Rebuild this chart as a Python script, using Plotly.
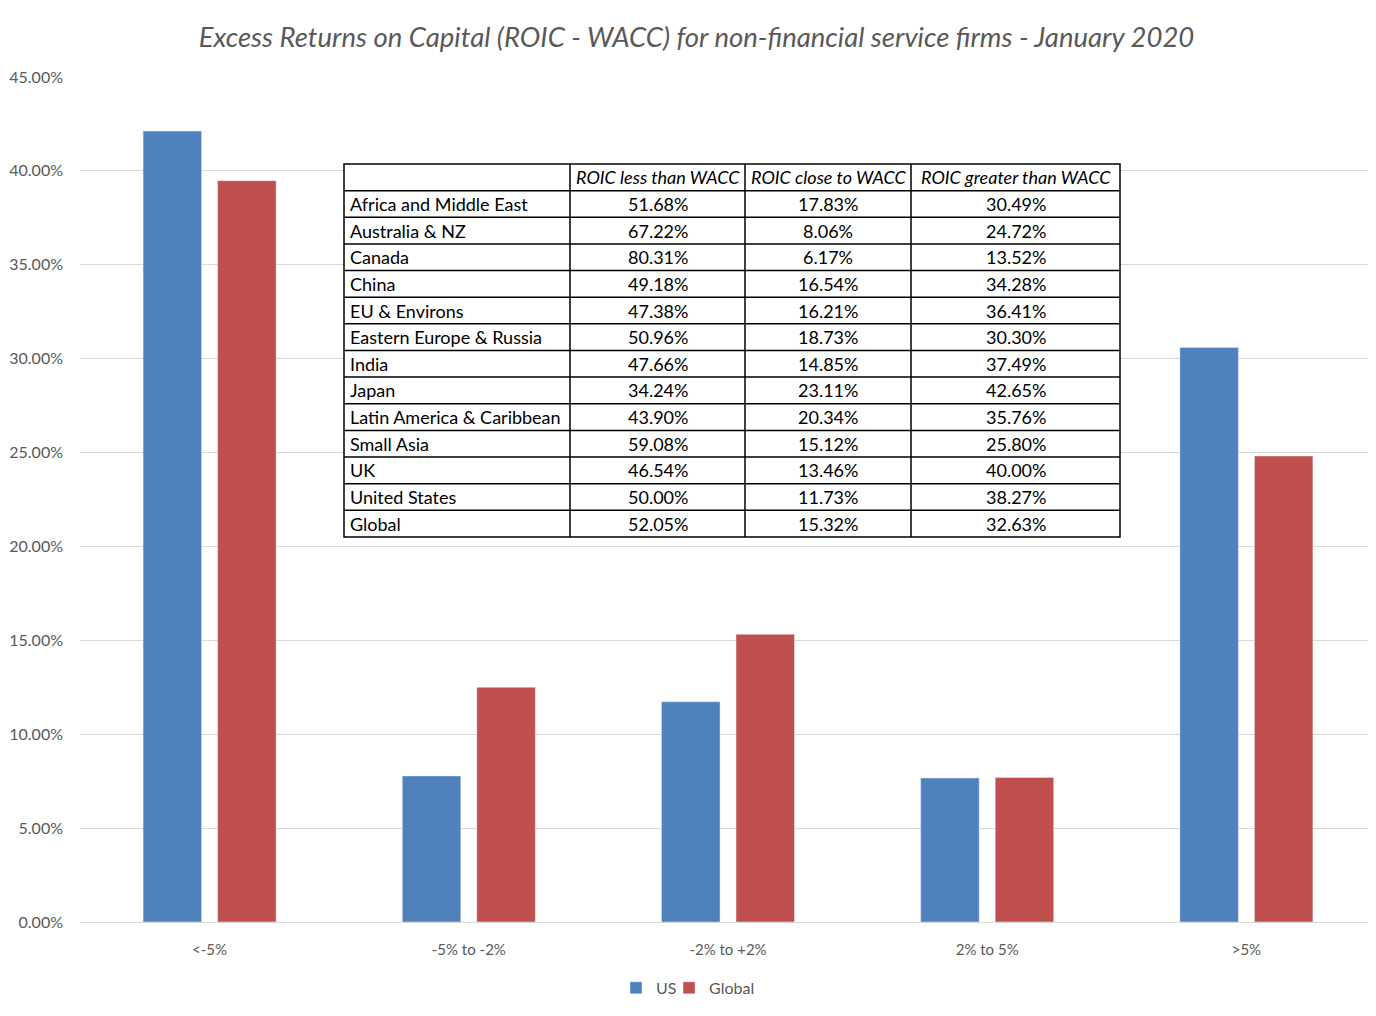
import plotly.graph_objects as go

categories = ["<-5%", "-5% to -2%", "-2% to +2%", "2% to 5%", ">5%"]
us_values = [42.12, 7.78, 11.73, 7.67, 30.60]
global_values = [39.48, 12.50, 15.32, 7.70, 24.82]

regions = ["Africa and Middle East", "Australia & NZ", "Canada", "China", "EU & Environs",
           "Eastern Europe & Russia", "India", "Japan", "Latin America & Caribbean",
           "Small Asia", "UK", "United States", "Global"]
less_than = ["51.68%", "67.22%", "80.31%", "49.18%", "47.38%", "50.96%", "47.66%",
             "34.24%", "43.90%", "59.08%", "46.54%", "50.00%", "52.05%"]
close_to = ["17.83%", "8.06%", "6.17%", "16.54%", "16.21%", "18.73%", "14.85%",
            "23.11%", "20.34%", "15.12%", "13.46%", "11.73%", "15.32%"]
greater_than = ["30.49%", "24.72%", "13.52%", "34.28%", "36.41%", "30.30%", "37.49%",
                "42.65%", "35.76%", "25.80%", "40.00%", "38.27%", "32.63%"]
table_headers = ["", "ROIC less than WACC", "ROIC close to WACC", "ROIC greater than WACC"]
y_ticks = [0, 5, 10, 15, 20, 25, 30, 35, 40, 45]
y_tick_labels = ["0.00%", "5.00%", "10.00%", "15.00%", "20.00%", "25.00%", "30.00%",
                 "35.00%", "40.00%", "45.00%"]

BLUE = "#4F81BD"
RED = "#C0504D"
GRAY = "#595959"
FONT = "Lato"

# figure / plot-area geometry (px)
FIG_W, FIG_H = 1368, 1008
M_L, M_R, M_T, M_B = 72, 0, 69, 94
PLOT_W = FIG_W - M_L - M_R
PLOT_H = FIG_H - M_T - M_B

fig = go.Figure()
fig.add_trace(go.Bar(name="US", x=categories, y=us_values, marker_color=BLUE,
                     legend="legend", showlegend=True))
fig.add_trace(go.Bar(name="Global", x=categories, y=global_values, marker_color=RED,
                     legend="legend2", showlegend=True))

# ---- overlay table built from the lists above (paper coordinates) ----
col_px = [226, 175, 166, 209]          # column widths in px
row_px = 26.64                          # row height in px
tbl_left_px, tbl_top_px = 264, 87      # offset from plot-area left / top
columns = [regions, less_than, close_to, greater_than]
n_rows = len(regions) + 1

def px_x(p):
    return p / PLOT_W

def px_y(p):
    return 1 - p / PLOT_H

col_edges = [tbl_left_px]
for w in col_px:
    col_edges.append(col_edges[-1] + w)
row_edges = [tbl_top_px + i * row_px for i in range(n_rows + 1)]

shapes = [dict(type="rect", xref="paper", yref="paper",
               x0=px_x(col_edges[0]), x1=px_x(col_edges[-1]),
               y0=px_y(row_edges[-1]), y1=px_y(row_edges[0]),
               fillcolor="white", line=dict(color="black", width=1.5), layer="above")]
for e in col_edges[1:-1]:
    shapes.append(dict(type="line", xref="paper", yref="paper", x0=px_x(e), x1=px_x(e),
                       y0=px_y(row_edges[-1]), y1=px_y(row_edges[0]),
                       line=dict(color="black", width=1.5)))
for e in row_edges[1:-1]:
    shapes.append(dict(type="line", xref="paper", yref="paper",
                       x0=px_x(col_edges[0]), x1=px_x(col_edges[-1]),
                       y0=px_y(e), y1=px_y(e), line=dict(color="black", width=1.5)))

annotations = []
for r in range(n_rows):
    yc = px_y(row_edges[r] + row_px / 2)
    for c in range(4):
        text = table_headers[c] if r == 0 else columns[c][r - 1]
        if not text:
            continue
        if c == 0:
            x, xa = px_x(col_edges[0] + 4), "left"
        else:
            x, xa = px_x((col_edges[c] + col_edges[c + 1]) / 2), "center"
        annotations.append(dict(
            text=text.replace("&", "&amp;"), xref="paper", yref="paper", x=x, y=yc,
            xanchor=xa, yanchor="middle", showarrow=False,
            font=dict(family=FONT, size=18, color="black",
                      style="italic" if r == 0 else "normal")))

legend_style = dict(orientation="h", xanchor="left", y=-0.078, yanchor="middle",
                    font=dict(family=FONT, size=16, color=GRAY), itemwidth=30,
                    bgcolor="rgba(0,0,0,0)", visible=True)

fig.update_layout(
    width=FIG_W, height=FIG_H,
    margin=dict(l=M_L, r=M_R, t=M_T, b=M_B),
    paper_bgcolor="white", plot_bgcolor="white",
    barmode="group", bargap=0.425, bargroupgap=0.215,
    font=dict(family=FONT, color=GRAY, size=15),
    showlegend=True,
    title=dict(
        text="Excess Returns on Capital (ROIC - WACC) for non-financial service firms - January 2020",
        x=0.5033, xanchor="center", y=0.971, yanchor="middle",
        font=dict(family=FONT, size=27.5, color=GRAY, style="italic"),
    ),
    legend=dict(x=0.4136, **legend_style),
    legend2=dict(x=0.4545, **legend_style),
    shapes=shapes,
    annotations=annotations,
)
fig.update_yaxes(range=[0, 45], tickvals=y_ticks, ticktext=y_tick_labels,
                 showgrid=True, gridcolor="#D9D9D9", gridwidth=1, zeroline=False,
                 showline=False, ticks="", ticklabelstandoff=16,
                 tickfont=dict(family=FONT, size=16, color=GRAY))
fig.update_xaxes(showline=True, linecolor="#D9D9D9", linewidth=1, ticks="",
                 ticklabelstandoff=14,
                 tickfont=dict(family=FONT, size=15, color=GRAY))

fig.write_html("out.html")
